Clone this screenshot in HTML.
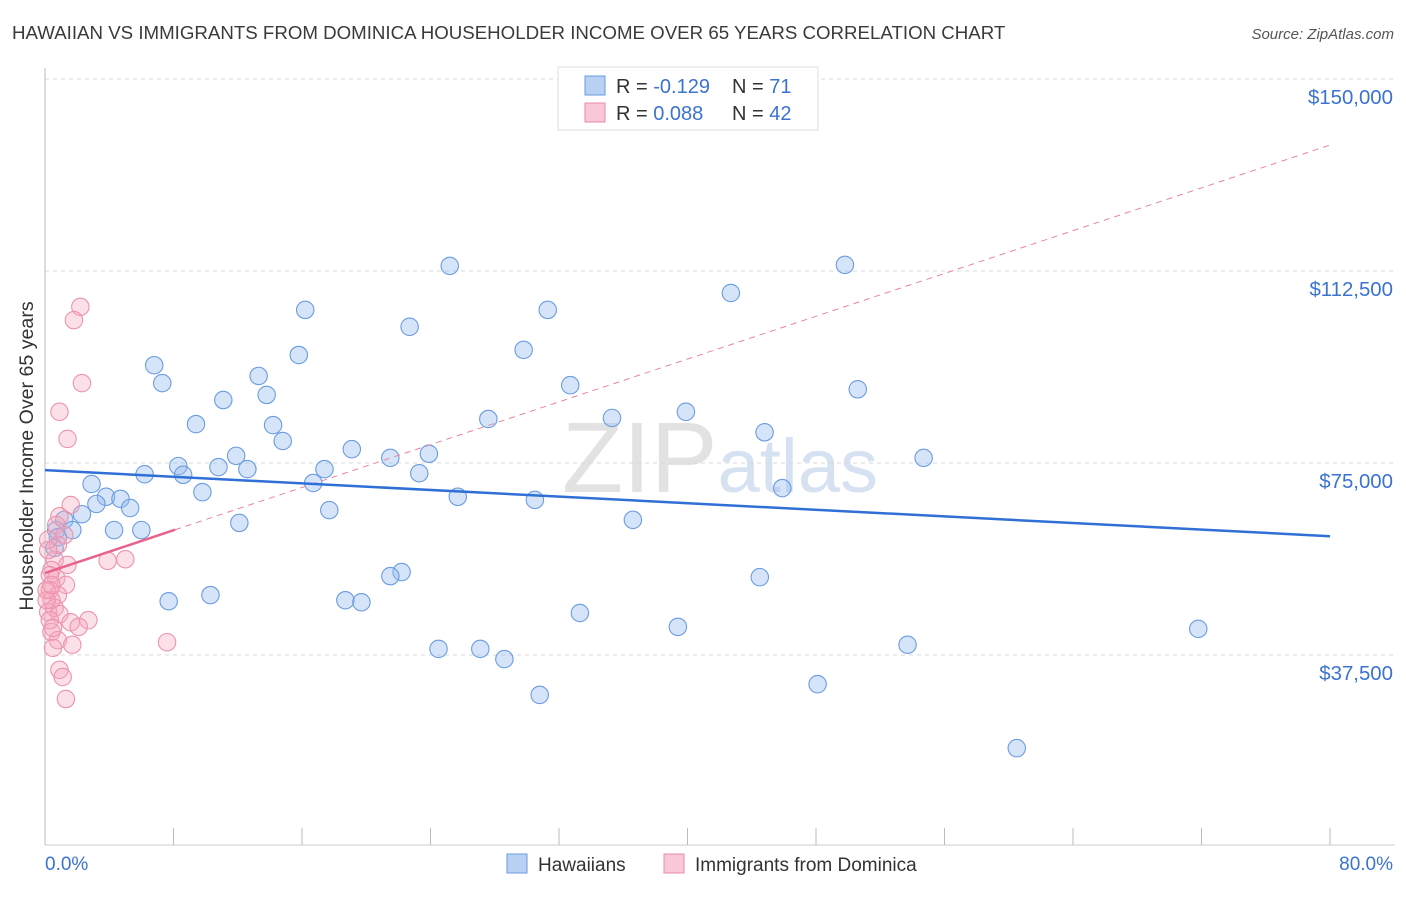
<!DOCTYPE html>
<html><head><meta charset="utf-8"><style>
body{margin:0;background:#fff;font-family:"Liberation Sans",sans-serif}
svg text{font-family:"Liberation Sans",sans-serif}
</style></head><body>
<svg id="chart" width="1406" height="892" viewBox="0 0 1406 892">
<text x="12" y="39" font-size="18.7" fill="#3a3a3a">HAWAIIAN VS IMMIGRANTS FROM DOMINICA HOUSEHOLDER INCOME OVER 65 YEARS CORRELATION CHART</text>
<text x="1394" y="39" font-size="15" fill="#555" font-style="italic" text-anchor="end">Source: ZipAtlas.com</text>
<text x="720" y="492" font-size="100" fill="#e2e2e2" text-anchor="middle" font-family="Liberation Serif"><tspan>ZIP</tspan><tspan fill="#d6e2f2" font-family="Liberation Sans" font-size="76">atlas</tspan></text>
<g id="grid"></g>
<g id="axes"></g>
<g id="marks"></g>
<text transform="translate(33,456) rotate(-90)" font-size="19.6" fill="#333" text-anchor="middle">Householder Income Over 65 years</text>
<text x="45" y="870" font-size="19" fill="#3b73d1">0.0%</text>
<text x="1393" y="870" font-size="19" fill="#3b73d1" text-anchor="end">80.0%</text>
<g>
<rect x="558" y="67" width="260" height="63" fill="#fff" stroke="#ddd"/>
<rect x="585" y="76" width="20" height="19" fill="#b8d1f3" stroke="#6a9ae0"/>
<rect x="585" y="103" width="20" height="19" fill="#f9c7d6" stroke="#ea8aa8"/>
<text x="616" y="93" font-size="20" fill="#333">R = <tspan fill="#3b73d1">-0.129</tspan><tspan x="732">N = </tspan><tspan fill="#3b73d1">71</tspan></text>
<text x="616" y="120" font-size="20" fill="#333">R = <tspan fill="#3b73d1"> 0.088</tspan><tspan x="732">N = </tspan><tspan fill="#3b73d1">42</tspan></text>
</g>
<g>
<rect x="507" y="854" width="20" height="19" fill="#b8d1f3" stroke="#6a9ae0"/>
<text x="538" y="871" font-size="19" fill="#333">Hawaiians</text>
<rect x="664" y="854" width="20" height="19" fill="#f9c7d6" stroke="#ea8aa8"/>
<text x="695" y="871" font-size="19" fill="#333">Immigrants from Dominica</text>
</g>
</svg>
<script>
const yTicks=[37500,75000,112500,150000];
const yTickLabels=["$37,500","$75,000","$112,500","$150,000"];
const xTicks=[0,8,16,24,32,40,48,56,64,72,80];
const blueX=[25.2,49.8,42.7,16.2,31.3,22.7,15.8,29.8,6.8,7.3,32.7,50.6,11.1,13.3,13.8,27.6,35.3,39.9,9.4,14.2,14.8,19.1,44.8,8.3,8.6,11.9,10.8,12.6,21.5,23.9,23.3,17.4,16.7,6.2,2.9,54.7,45.9,25.7,30.5,9.8,3.8,4.7,3.2,5.3,2.3,1.2,17.7,12.1,36.6,0.7,1.7,4.3,6.0,0.8,0.6,22.2,21.5,44.5,10.3,7.7,18.7,19.7,33.3,39.4,71.8,24.5,27.1,28.6,53.7,30.8,48.1,60.5];
const blueY=[113.5,113.7,108.2,104.9,104.9,101.6,96.1,97.1,94.1,90.6,90.2,89.4,87.3,92.0,88.3,83.6,83.8,85.0,82.6,82.4,79.3,77.7,81.0,74.4,72.7,76.4,74.2,73.8,76.0,76.8,73.0,73.8,71.1,72.8,70.9,76.0,70.1,68.4,67.8,69.3,68.4,68.0,67.0,66.2,65.0,63.9,65.8,63.3,63.9,61.9,61.9,61.9,61.9,60.5,58.4,53.7,52.9,52.7,49.2,48.0,48.2,47.8,45.7,43.0,42.6,38.7,38.7,36.7,39.5,29.7,31.8,19.3];
const pinkX=[2.2,1.8,2.3,0.9,1.4,1.6,0.9,0.7,1.2,0.8,0.6,1.4,0.4,0.7,1.3,0.3,0.8,0.4,0.6,0.2,0.9,0.3,1.6,2.7,2.1,0.4,0.8,1.7,0.5,3.9,5.0,7.6,0.9,1.1,1.3,0.1,0.2,0.2,0.3,0.5,0.1,0.4];
const pinkY=[105.5,102.9,90.6,85.0,79.7,66.8,64.6,62.9,60.9,59.0,56.1,55.1,54.1,52.5,51.2,50.2,49.2,48.2,46.7,45.9,45.5,44.3,43.9,44.3,43.0,42.0,40.4,39.5,38.9,55.9,56.2,40.0,34.6,33.2,28.9,48.2,58.0,60.0,53.1,42.8,50.2,51.2];
const blueTrend=[73.6,60.7];
const pinkTrend=[53.5,137.1];
const pinkSolidEnd=8.1;

const NS="http://www.w3.org/2000/svg";
const X0=45,X1=1330,YB=847,PPU=192/37500;
const xs=v=>X0+(X1-X0)*v/80;
const ys=v=>YB-v*PPU;
function mk(tag,attrs,parent){const e=document.createElementNS(NS,tag);for(const k in attrs)e.setAttribute(k,attrs[k]);parent.appendChild(e);return e;}
const grid=document.getElementById('grid'),axes=document.getElementById('axes'),marks=document.getElementById('marks');
yTicks.forEach((t,i)=>{
  const l=mk('line',{x1:45,x2:1395,y1:ys(t),y2:ys(t),stroke:'#d8d8d8','stroke-dasharray':'4,4'},grid);
  
  
  const tx=mk('text',{x:1393,y:ys(t)+25,'font-size':20.4,fill:'#3b73d1','text-anchor':'end'},grid);
  tx.textContent=yTickLabels[i];
  
  
});
const ya=mk('line',{x1:45,x2:45,y1:68,y2:845,stroke:'#bbb'},axes);


const xa=mk('line',{x1:45,x2:1395,y1:845,y2:845,stroke:'#ccc'},axes);


xTicks.forEach(t=>{
  const l=mk('line',{x1:xs(t),x2:xs(t),y1:828,y2:845,stroke:'#bbb'},axes);
  
  
});
blueX.forEach((x,i)=>{
  const c=mk('circle',{cx:xs(x),cy:ys(blueY[i]*1000),r:8.7,fill:'rgba(150,188,238,0.4)',stroke:'#6a9ce0','stroke-width':1.1},marks);
  
  
});
pinkX.forEach((x,i)=>{
  const c=mk('circle',{cx:xs(x),cy:ys(pinkY[i]*1000),r:8.7,fill:'rgba(245,165,190,0.35)',stroke:'#ec93ae','stroke-width':1.1},marks);
  
  
});
const pv=x=>pinkTrend[0]+(pinkTrend[1]-pinkTrend[0])*x/80;
const pd=mk('line',{x1:xs(pinkSolidEnd),y1:ys(pv(pinkSolidEnd)*1000),x2:xs(80),y2:ys(pinkTrend[1]*1000),stroke:'#e8849f','stroke-width':1,'stroke-dasharray':'6,5'},marks);


const ps=mk('line',{x1:xs(0),y1:ys(pinkTrend[0]*1000),x2:xs(pinkSolidEnd),y2:ys(pv(pinkSolidEnd)*1000),stroke:'#e8638c','stroke-width':2.5},marks);


const bl=mk('line',{x1:xs(0),y1:ys(blueTrend[0]*1000),x2:xs(80),y2:ys(blueTrend[1]*1000),stroke:'#2f6fd6','stroke-width':2.5},marks);


</script>
</body></html>
